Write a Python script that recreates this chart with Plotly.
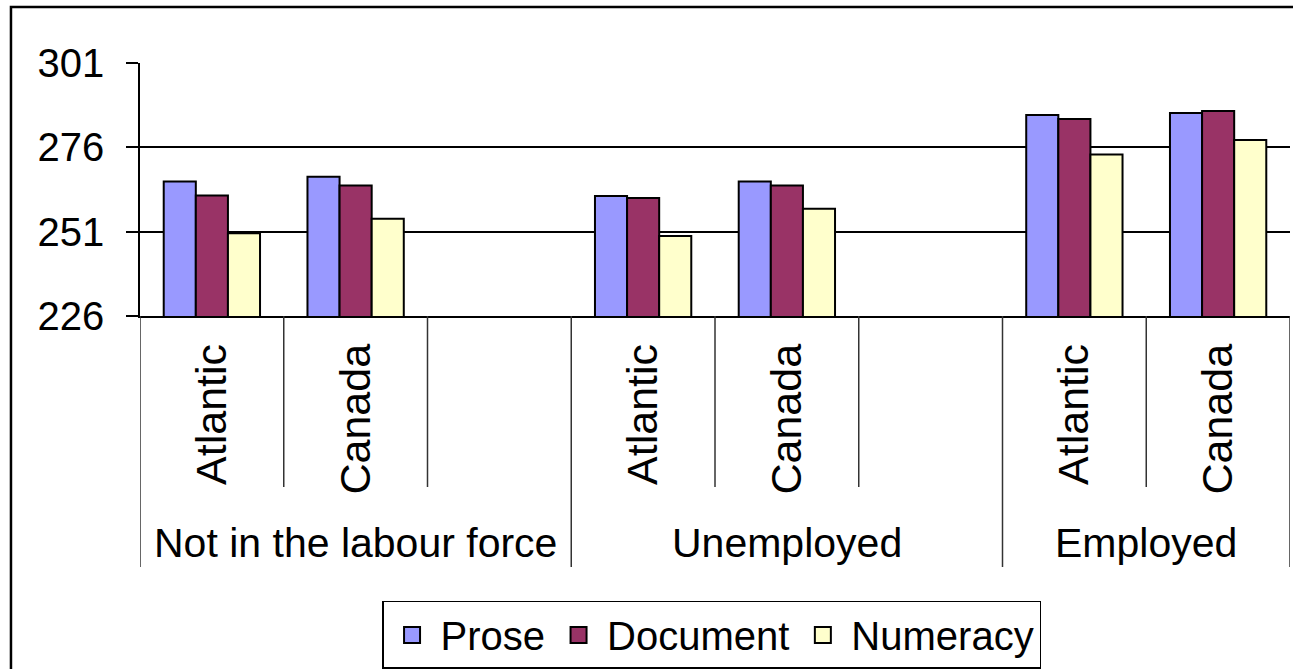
import plotly.graph_objects as go

# ---- data ----
groups = ["Not in the labour force", "Unemployed", "Employed"]
group_members = [["Atlantic", "Canada", ""], ["Atlantic", "Canada", ""], ["Atlantic", "Canada"]]
prose = [265.9, 267.3, None, 261.6, 265.9, None, 285.6, 286.2]
document = [261.7, 264.7, None, 261.0, 264.7, None, 284.4, 286.8]
numeracy = [250.5, 254.8, None, 249.7, 257.8, None, 273.9, 278.2]
series_names = ["Prose", "Document", "Numeracy"]
series_colors = ["#9999FF", "#993366", "#FFFFCC"]
y_ticks = [226, 251, 276, 301]

categories = [c for g in group_members for c in g]
xpos = list(range(len(categories)))

FONT = "Liberation Sans, Arial, sans-serif"

fig = go.Figure()
for name, vals, col in zip(series_names, [prose, document, numeracy], series_colors):
    fig.add_trace(go.Bar(
        x=xpos, y=vals, name=name, showlegend=False,
        marker=dict(color=col, line=dict(color="black", width=2)),
    ))
# legend entries with square swatches
for name, col in zip(series_names, series_colors):
    fig.add_trace(go.Scatter(
        x=[None], y=[None], name=name, mode="markers",
        marker=dict(symbol="square", size=16, color=col, line=dict(color="black", width=2)),
    ))

# separators computed from category structure
shapes = []
inner_bottom = -0.676
group_bottom = -0.992
start = 0
group_centers = []
bounds = [-0.5]
for g in group_members:
    end = start + len(g)
    group_centers.append((start + end - 1) / 2)
    for k in range(start + 1, end):
        shapes.append(dict(type="line", xref="x", yref="paper", x0=k - 0.5, x1=k - 0.5,
                           y0=0, y1=inner_bottom, line=dict(color="#333333", width=1.5)))
    bounds.append(end - 0.5)
    start = end
for b in bounds:
    shapes.append(dict(type="line", xref="x", yref="paper", x0=b, x1=b,
                       y0=0, y1=group_bottom, line=dict(color="#333333", width=1.5)))

# outer chart border
shapes.append(dict(type="rect", xref="paper", yref="paper", x0=-0.1122, x1=1.05,
                   y0=1.2213, y1=-1.6, line=dict(color="black", width=2.5), layer="below"))

annotations = []
for gname, cx in zip(groups, group_centers):
    annotations.append(dict(text=gname, x=cx, xref="x", y=-0.897, yref="paper",
                            xanchor="center", yanchor="middle", showarrow=False,
                            font=dict(family=FONT, size=41, color="black")))

fig.update_layout(
    width=1293, height=669,
    margin=dict(l=140, r=3, t=63, b=353, autoexpand=False),
    paper_bgcolor="white", plot_bgcolor="white",
    barmode="group", bargap=0.33, bargroupgap=0,
    font=dict(family=FONT, size=40, color="black"),
    shapes=shapes, annotations=annotations,
    showlegend=True,
    legend=dict(orientation="h", x=0.497, xanchor="center", y=-1.126, yanchor="top",
                bordercolor="black", borderwidth=1.5, bgcolor="white",
                font=dict(family=FONT, size=40, color="black"),
                traceorder="normal", itemsizing="trace", itemwidth=47),
    xaxis=dict(range=[-0.5, len(categories) - 0.5], tickvals=xpos, ticktext=categories,
               tickangle=-90, ticks="", showgrid=False, zeroline=False,
               showline=True, linecolor="black", linewidth=1.5,
               tickfont=dict(family=FONT, size=43, color="black"),
               ticklabelstandoff=9, automargin=False),
    yaxis=dict(range=[226, 301], tickvals=y_ticks, ticks="outside", ticklen=12,
               tickcolor="black", tickwidth=1.5,
               showgrid=True, gridcolor="black", gridwidth=1.5, zeroline=False,
               showline=True, linecolor="black", linewidth=1.5,
               tickfont=dict(family=FONT, size=40, color="black"),
               ticklabelstandoff=14, automargin=False),
)

fig.write_html("out.html", config={"displayModeBar": False},
               post_script="document.body.style.margin='0px';document.body.style.overflow='hidden';")
